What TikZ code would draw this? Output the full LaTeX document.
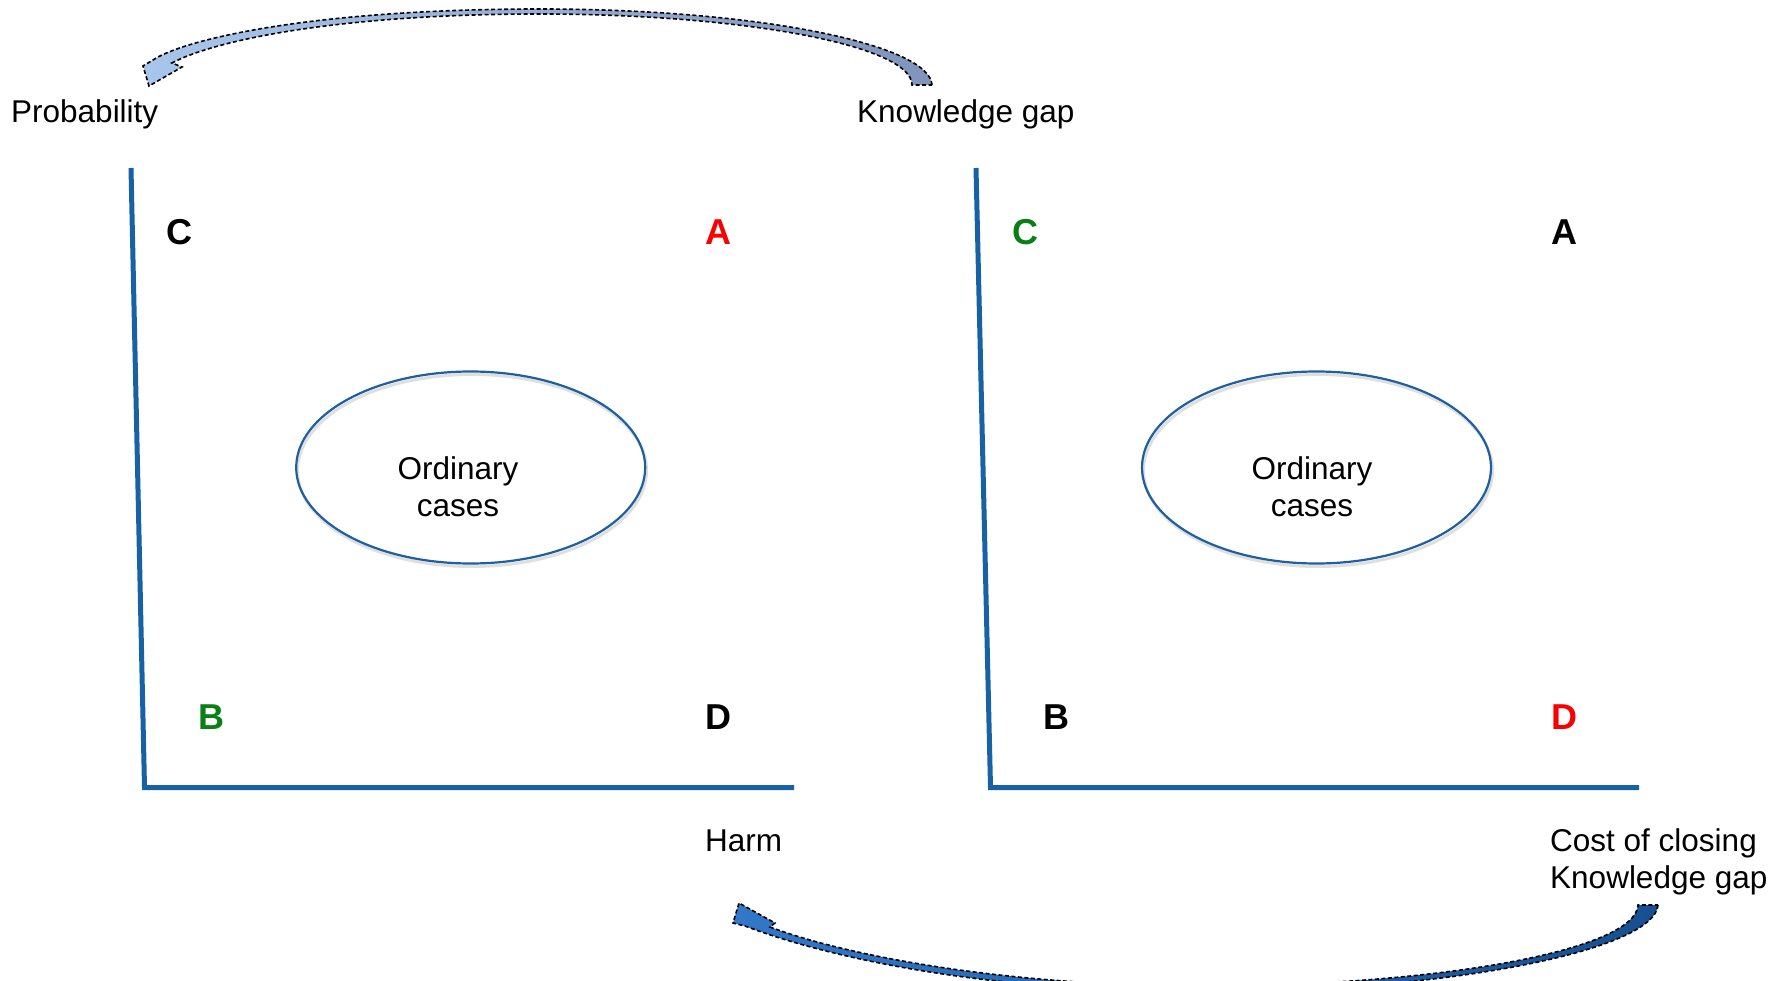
\documentclass[tikz,border=0pt]{standalone}
\usepackage{fontspec}
\setmainfont{Liberation Sans}
\usetikzlibrary{shapes.geometric}
\definecolor{axisblue}{RGB}{22,98,164}
\definecolor{ellblue}{RGB}{30,95,160}
\definecolor{lred}{RGB}{250,0,0}
\definecolor{lgreen}{RGB}{10,128,20}
\definecolor{tA}{RGB}{168,198,236}
\definecolor{tB}{RGB}{80,128,196}
\definecolor{tC}{RGB}{128,148,188}
\definecolor{bA}{RGB}{50,120,200}
\definecolor{bB}{RGB}{45,110,185}
\definecolor{bC}{RGB}{22,80,145}
\begin{document}
\begin{tikzpicture}[x=1pt,y=-1pt,
  axis/.style={draw=axisblue,line width=5pt},
  ell/.style={draw=ellblue,line width=2.2pt,ellipse,minimum width=349pt,minimum height=192pt,inner sep=0pt},
  lbl/.style={font=\fontsize{31.5}{36.5}\selectfont,inner sep=0pt},
  letter/.style={font=\fontsize{36}{40}\selectfont\bfseries,inner sep=0pt,anchor=base},
  blockarrow/.style={draw=black,line width=1.6pt,dash pattern=on 4pt off 2.5pt,line join=miter}]
\useasboundingbox (0,0) rectangle (1787,981);

% axes
\coordinate (l1) at (131,168);
\coordinate (l0) at (144.5,787.5);
\coordinate (l2) at (794,787.5);
\draw[axis] (l1) -- (l0) -- (l2);
\coordinate (r1) at (976,168);
\coordinate (r0) at (990.5,787.5);
\coordinate (r2) at (1639,787.5);
\draw[axis] (r1) -- (r0) -- (r2);

% axis labels
\node[lbl,anchor=base west] (prob) at (11,123) {Probability};
\node[lbl,anchor=base west] (kgap) at (857,123) {Knowledge gap};
\node[lbl,anchor=base west] (harm) at (705,851) {Harm};
\node[lbl,anchor=base west,align=left] (cost) at (1550,888) {Cost of closing\\Knowledge gap};

% letters left
\node[letter] (lC) at (179,245) {C};
\node[letter,text=lred] (lA) at (718,245) {A};
\node[letter,text=lgreen] (lB) at (211,729) {B};
\node[letter] (lD) at (718,729) {D};
% letters right
\node[letter,text=lgreen] (rC) at (1025,245) {C};
\node[letter] (rA) at (1564,245) {A};
\node[letter] (rB) at (1056,729) {B};
\node[letter,text=lred] (rD) at (1564,729) {D};

% ellipses
\draw[gray!25,line width=3pt] (472,470.5) ellipse (174.5pt and 96pt);
\node[ell] (e1) at (470.7,467.5) {};
\node[lbl,align=center,anchor=base] (t1) at (458,516) {Ordinary\\cases};
\draw[gray!25,line width=3pt] (1318,470.5) ellipse (174.5pt and 96pt);
\node[ell] (e2) at (1316.5,467.5) {};
\node[lbl,align=center,anchor=base] (t2) at (1312,516) {Ordinary\\cases};

% top curved arrow (Knowledge gap -> Probability)
\path[blockarrow,left color=tA,middle color=tB,right color=tC]
  (932,85) .. controls (930,45) and (760,9) .. (540,9)
  .. controls (330,9) and (200,35) .. (158,57)
  -- (143,66) -- (149,86) -- (182,67) -- (172,63)
  .. controls (215,40) and (340,14) .. (540,14)
  .. controls (740,14) and (912,45) .. (912,85) -- cycle;

% bottom curved arrow (Cost -> Harm)
\path[blockarrow,left color=bA,middle color=bB,right color=bC]
  (1658,905) .. controls (1655,950) and (1450,992) .. (1200,992)
  .. controls (1000,992) and (840,962) .. (745,926)
  -- (733,923) -- (739,903) -- (775,923) -- (770,927)
  .. controls (850,957) and (1010,986) .. (1200,986)
  .. controls (1440,986) and (1636,950) .. (1638,905) -- cycle;
\end{tikzpicture}
\end{document}
